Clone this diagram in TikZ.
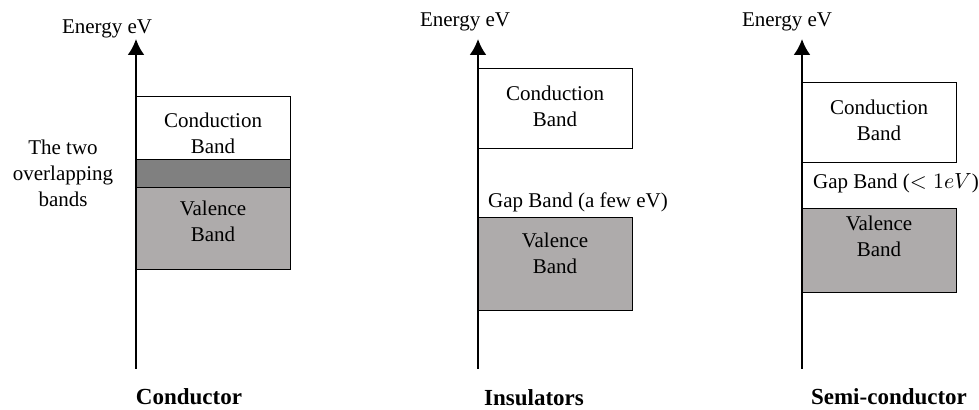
\documentclass[tikz,border=0pt]{standalone}
\usepackage{fontspec}
\setmainfont{Liberation Serif}
\usetikzlibrary{positioning, arrows.meta, calc}
\definecolor{valgray}{RGB}{174,171,171}
\definecolor{overgray}{RGB}{128,128,128}

\begin{document}
\begin{tikzpicture}[
  x=0.5pt, y=-0.5pt,
  axis/.style={-{Latex[length=8pt, width=8.5pt]}, line width=1.2pt, draw=black},
  band/.style={rectangle, draw=black, line width=0.5pt, minimum width=77pt,
               inner sep=0pt, outer sep=0pt},
  bandlbl/.style={font=\fontsize{10.5}{13}\selectfont, align=center, inner sep=0pt},
  ylbl/.style={font=\fontsize{10.5}{13}\selectfont, inner sep=0pt},
  title/.style={font=\fontsize{11.5}{13}\selectfont\bfseries, inner sep=0pt}
]
\useasboundingbox (0,0) rectangle (979,410);

% ===== ENERGY AXES =====
\foreach \n/\x in {1/136, 2/478, 3/802}{
  \coordinate (base\n) at (\x,369);
  \coordinate (top\n) at (\x,39);
  \draw[axis] (base\n) -- (top\n);
}
\node[ylbl] (energy1) at (107,29) {Energy eV};
\node[ylbl] (energy2) at (465,22) {Energy eV};
\node[ylbl] (energy3) at (787,22) {Energy eV};

% ===== CONDUCTOR =====
\node[band, minimum height=31.5pt] (cond1) at (213,128.5) {};
\node[band, fill=overgray, minimum height=14pt] (over1) at (213,174) {};
\node[band, fill=valgray, minimum height=41pt] (val1) at (213,229) {};
\node[bandlbl] (cond1lbl) at (213,133) {Conduction\\Band};
\node[bandlbl] (val1lbl) at (213,221) {Valence\\Band};
\node[bandlbl] (overlbl) at (63,173) {The two\\overlapping\\bands};
\node[title] (conductor) at (189,397) {Conductor};

% ===== INSULATORS =====
\node[band, minimum height=40pt] (cond2) at (555,109) {};
\node[band, fill=valgray, minimum height=46.5pt] (val2) at (555,264.5) {};
\node[bandlbl] (cond2lbl) at (555,106) {Conduction\\Band};
\node[bandlbl] (val2lbl) at (555,253.5) {Valence\\Band};
\node[ylbl] (gap2) at (578,202) {Gap Band (a few eV)};
\node[title] (insulators) at (534,398) {Insulators};

% ===== SEMI-CONDUCTOR =====
\node[band, minimum height=40pt] (cond3) at (879,123) {};
\node[band, fill=valgray, minimum height=42pt] (val3) at (879,251) {};
\node[bandlbl] (cond3lbl) at (879,120.5) {Conduction\\Band};
\node[bandlbl] (val3lbl) at (879,236) {Valence\\Band};
\node[ylbl] (gap3) at (896,183) {Gap Band ($<1eV$)};
\node[title] (semicond) at (889,397) {Semi-conductor};

\end{tikzpicture}
\end{document}
